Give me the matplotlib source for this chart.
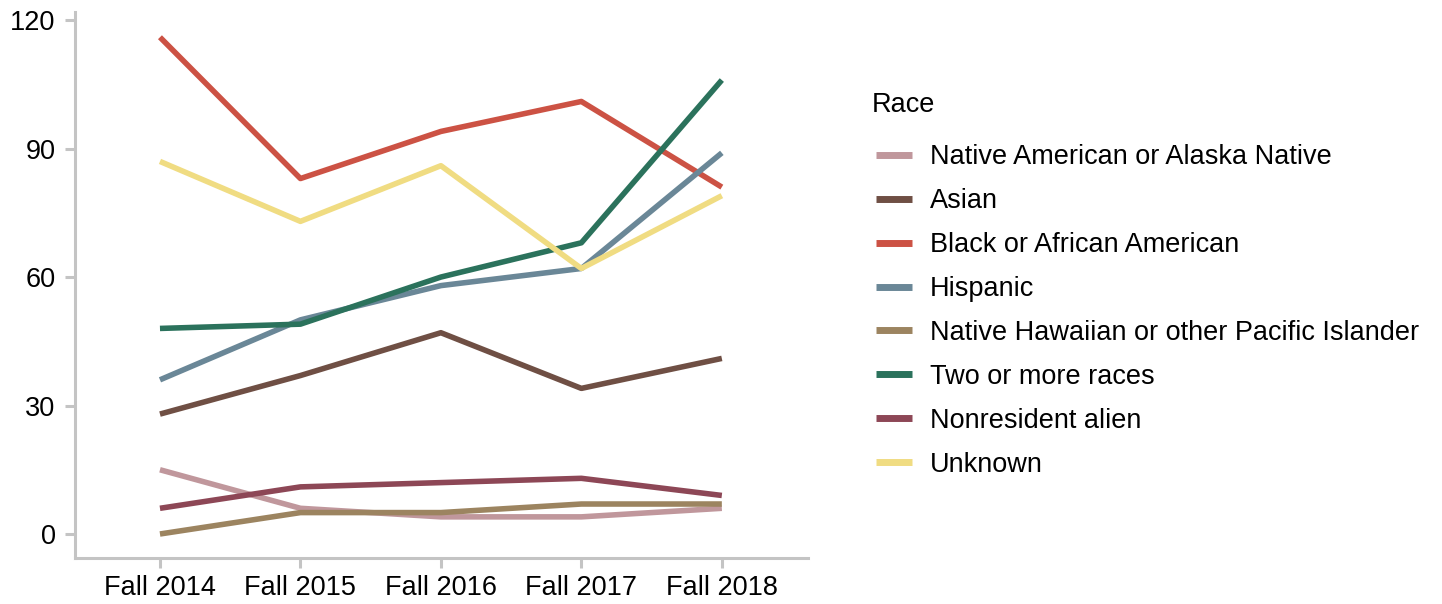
import matplotlib
matplotlib.use("Agg")
import matplotlib.pyplot as plt

plt.rcParams['font.family'] = ['Liberation Sans', 'DejaVu Sans']

terms = ["Fall 2014", "Fall 2015", "Fall 2016", "Fall 2017", "Fall 2018"]

native_american = [15, 6, 4, 4, 6]
asian = [28, 37, 47, 34, 41]
black = [116, 83, 94, 101, 81]
hispanic = [36, 50, 58, 62, 89]
pacific_islander = [0, 5, 5, 7, 7]
two_or_more = [48, 49, 60, 68, 106]
nonresident = [6, 11, 12, 13, 9]
unknown = [87, 73, 86, 62, 79]

series = [
    ("Native American or Alaska Native", native_american, "#c0979c"),
    ("Asian", asian, "#6f4f44"),
    ("Black or African American", black, "#cc5244"),
    ("Hispanic", hispanic, "#6a8797"),
    ("Native Hawaiian or other Pacific Islander", pacific_islander, "#9c8460"),
    ("Two or more races", two_or_more, "#2b725c"),
    ("Nonresident alien", nonresident, "#8d4756"),
    ("Unknown", unknown, "#f0dc82"),
]

fig = plt.figure(figsize=(14.42, 6.04), dpi=100)
ax = fig.add_axes([0.052, 0.0762, 0.508, 0.904])

x = list(range(len(terms)))
for name, vals, col in series:
    ax.plot(x, vals, color=col, lw=4.0, label=name, solid_capstyle='butt')

ax.set_xlim(-0.605, 4.61)
ax.set_ylim(-5.6, 121.9)
ax.set_xticks(x)
ax.set_xticklabels(terms)
ax.set_yticks([0, 30, 60, 90, 120])

for side in ("top", "right"):
    ax.spines[side].set_visible(False)
for side in ("left", "bottom"):
    ax.spines[side].set_color("#c4c4c4")
    ax.spines[side].set_linewidth(2.2)

ax.tick_params(axis="both", colors="#c4c4c4", width=2.2, length=7,
               labelsize=19.5, labelcolor="black")
ax.tick_params(axis="x", pad=5)
ax.tick_params(axis="y", pad=7)

# Legend entries, with the "Race" heading set as its own text
leg = fig.legend(loc="upper left", bbox_to_anchor=(0.5906, 0.8012), frameon=False,
                 fontsize=19.5, handlelength=1.33, handletextpad=0.67,
                 labelspacing=0.66)
for h in leg.legend_handles:
    h.set_linewidth(5)
fig.text(872 / 1442, 1 - 105 / 604, "Race", fontsize=19.5, ha="left", va="center")

fig.savefig("out.png", dpi=100)
